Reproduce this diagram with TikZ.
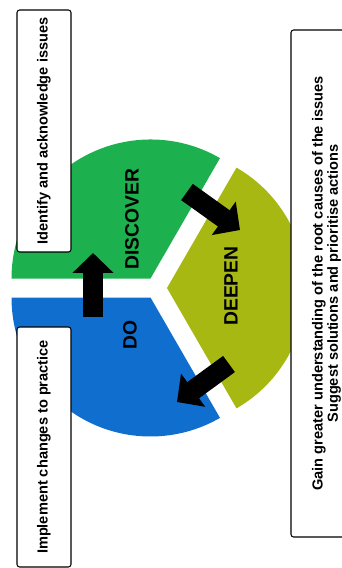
\documentclass[tikz,border=0pt]{standalone}
\usepackage{fontspec}
\setmainfont{Liberation Sans}
\usetikzlibrary{arrows.meta}
\definecolor{discgreen}{RGB}{28,177,78}
\definecolor{doblue}{RGB}{16,110,206}
\definecolor{deepolive}{RGB}{168,184,18}
\begin{document}
\begin{tikzpicture}[
    note/.style={draw,fill=white,rounded corners=1.5pt,line width=0.6pt,rotate=90,inner sep=0pt,align=center,font=\fontsize{8.3}{8.6}\selectfont\bfseries},
    phase/.style={rotate=90,font=\fontsize{11}{12}\selectfont\bfseries},
    turn/.style={line width=0.4cm,-{Triangle[width=0.8cm,length=0.4cm]}}]
    \useasboundingbox (0,0) rectangle (6.84,11.36);
    \clip (0,0) rectangle (6.84,11.36);
    \fill[discgreen] (3.01,5.79)--++(60:2.78) arc (60:180:2.78)--cycle;
    \fill[doblue] (3.01,5.41)--++(180:2.78) arc (180:300:2.78)--cycle;
    \fill[deepolive] (3.34,5.60)--++(-60:2.78) arc (-60:60:2.78)--cycle;
    \node[phase] (discover) at (2.64,6.98) {DISCOVER};
    \node[phase] (do) at (2.60,4.66) {DO};
    \node[phase] (deepen) at (4.62,5.64) {DEEPEN};
    \coordinate (do out) at (1.86,5.02);
    \coordinate (discover in) at (1.86,6.30);
    \coordinate (discover out) at (3.74,7.52);
    \coordinate (deepen in) at (4.80,6.76);
    \coordinate (deepen out) at (4.58,4.08);
    \coordinate (do in) at (3.54,3.32);
    \draw[turn] (do out)--(discover in);
    \draw[turn] (discover out)--(deepen in);
    \draw[turn] (deepen out)--(do in);
    \node[note,minimum width=4.84cm,minimum height=1.08cm] (identify) at (0.88,8.74) {Identify and acknowledge issues};
    \node[note,minimum width=4.8cm,minimum height=1.08cm] (implement) at (0.88,2.42) {Implement changes to practice};
    \node[note,minimum width=10.14cm,minimum height=1.42cm] (gain) at (6.53,5.69) {Gain greater understanding of the root causes of the issues\\Suggest solutions and prioritise actions};
  \end{tikzpicture}
\end{document}
